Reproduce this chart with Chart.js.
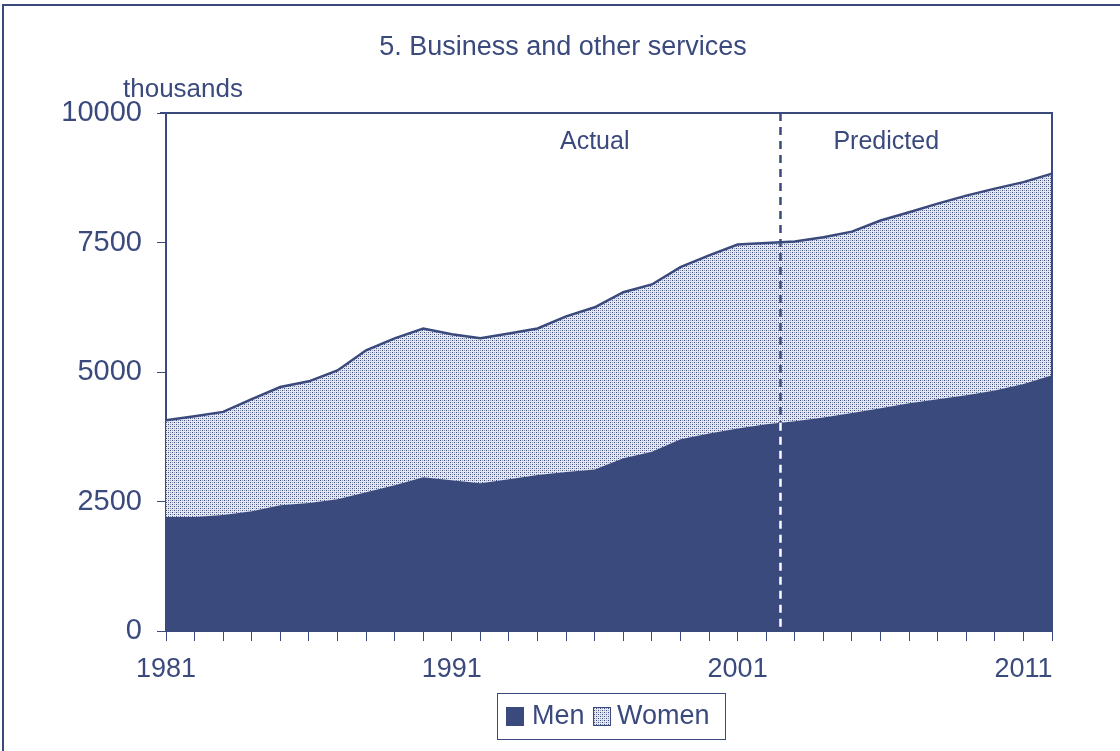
<!DOCTYPE html>
<html>
<head>
<meta charset="utf-8">
<title>5. Business and other services</title>
<script src="https://cdn.jsdelivr.net/npm/chart.js@4/dist/chart.umd.min.js"></script>
<style>
  html, body { margin: 0; padding: 0; background: #fff; }
  #wrap { position: relative; width: 1120px; height: 751px; }
</style>
</head>
<body>
<div id="wrap"><canvas id="chart" width="1120" height="751"></canvas></div>
<script>
// Data (thousands)
const years = [];
for (let y = 1981; y <= 2012; y++) years.push(String(y));
const shownYears = ['1981', '1991', '2001', '2011'];

const men = [2200, 2200, 2240, 2310, 2430, 2470, 2545, 2680, 2815, 2970,
             2910, 2850, 2930, 3010, 3070, 3120, 3335, 3460, 3700, 3815,
             3910, 3990, 4050, 4120, 4210, 4300, 4395, 4475, 4550, 4645,
             4770, 4935];
const women = [1870, 1945, 1990, 2165, 2280, 2350, 2485, 2740, 2835, 2870,
               2820, 2800, 2815, 2830, 3005, 3130, 3205, 3230, 3325, 3435,
               3550, 3500, 3470, 3480, 3500, 3625, 3690, 3775, 3855, 3895,
               3895, 3895];
const yTicks = [0, 2500, 5000, 7500, 10000];

const navy = '#3b4a7d';
const font = '"Liberation Sans", Arial, sans-serif';

// dotted fill used for women
function makeDots() {
    const c = document.createElement('canvas');
    c.width = 4; c.height = 4;
    const g = c.getContext('2d');
    g.fillStyle = '#e6e9f1';
    g.fillRect(0, 0, 4, 4);
    g.fillStyle = navy;
    g.fillRect(0, 0, 1, 1);
    g.fillRect(2, 2, 1, 1);
    g.fillStyle = 'rgba(59,74,125,0.5)';
    g.fillRect(2, 0, 1, 1);
    g.fillRect(0, 2, 1, 1);
    return document.getElementById('chart').getContext('2d').createPattern(c, 'repeat');
}
const dots = makeDots();

// frame, title, labels, dashed split line, legend
const decorations = {
    id: 'decorations',
    beforeDraw(chart) {
        const ctx = chart.ctx;
        ctx.save();
        ctx.fillStyle = '#fff';
        ctx.fillRect(0, 0, chart.width, chart.height);
        ctx.fillStyle = navy;
        ctx.fillRect(2, 4, chart.width - 2, 2);
        ctx.fillRect(2, 4, 2, chart.height - 4);
        ctx.restore();
    },
    afterDatasetsDraw(chart) {
        const ctx = chart.ctx;
        const a = chart.chartArea;
        const xs = chart.scales.x;
        ctx.save();

        // plot frame top and right
        ctx.strokeStyle = navy;
        ctx.lineWidth = 2;
        ctx.beginPath();
        ctx.moveTo(a.left - 6, a.top);
        ctx.lineTo(a.right, a.top);
        ctx.lineTo(a.right, a.bottom);
        ctx.stroke();

        // split between actual and predicted
        const x0 = xs.getPixelForValue(21), x1 = xs.getPixelForValue(22);
        const sx = (x0 + x1) / 2;
        const pts = chart.getDatasetMeta(0).data;
        const menY = (pts[21].y + pts[22].y) / 2;
        ctx.lineWidth = 2.5;
        ctx.setLineDash([8, 6]);
        ctx.strokeStyle = navy;
        ctx.beginPath();
        ctx.moveTo(sx, a.top);
        ctx.lineTo(sx, menY);
        ctx.stroke();
        ctx.strokeStyle = '#fff';
        ctx.beginPath();
        ctx.moveTo(sx, menY);
        ctx.lineTo(sx, a.bottom + 8);
        ctx.stroke();
        ctx.setLineDash([]);

        ctx.fillStyle = navy;
        ctx.textBaseline = 'middle';
        ctx.textAlign = 'center';
        ctx.font = '25px ' + font;
        ctx.fillText('Actual', xs.getPixelForValue(15), a.top + 29);
        const px = xs.getPixelForValue(25) + 0.2 * (xs.getPixelForValue(26) - xs.getPixelForValue(25));
        ctx.fillText('Predicted', px, a.top + 29);

        // title and unit
        ctx.font = '27px ' + font;
        ctx.fillText('5. Business and other services', 563, 48);
        ctx.textAlign = 'left';
        ctx.font = '26px ' + font;
        ctx.fillText('thousands', 123, 90);

        // legend
        ctx.lineWidth = 1;
        ctx.strokeStyle = navy;
        ctx.strokeRect(497.5, 693.5, 228, 46);
        ctx.fillStyle = navy;
        ctx.fillRect(506, 707, 18, 19);
        ctx.fillStyle = dots;
        ctx.fillRect(593, 707, 18, 19);
        ctx.strokeRect(593.5, 707.5, 17, 18);
        ctx.fillStyle = navy;
        ctx.font = '27px ' + font;
        ctx.fillText('Men', 532, 717);
        ctx.fillText('Women', 617, 717);
        ctx.restore();
    }
};

new Chart(document.getElementById('chart'), {
    type: 'line',
    data: {
        labels: years,
        datasets: [
            {
                label: 'Men',
                data: men,
                backgroundColor: navy,
                borderWidth: 0,
                pointRadius: 0,
                fill: 'origin',
                tension: 0
            },
            {
                label: 'Women',
                data: women,
                backgroundColor: dots,
                borderColor: navy,
                borderWidth: 2.5,
                pointRadius: 0,
                fill: '-1',
                tension: 0
            }
        ]
    },
    options: {
        responsive: false,
        animation: false,
        layout: { padding: { top: 113, right: 68, left: 0, bottom: 0 } },
        plugins: {
            legend: { display: false },
            title: { display: false },
            tooltip: { enabled: false }
        },
        scales: {
            x: {
                offset: false,
                grid: { drawOnChartArea: false, drawTicks: true, tickLength: 10, color: navy, lineWidth: 1 },
                border: { display: true, color: navy, width: 2 },
                ticks: {
                    autoSkip: false,
                    maxRotation: 0,
                    padding: 12,
                    color: navy,
                    font: { family: font, size: 27 },
                    callback: function (v) {
                        const lab = this.getLabelForValue(v);
                        return shownYears.includes(lab) ? lab : '';
                    }
                },
                afterFit(scale) { scale.height = 120; }
            },
            y: {
                stacked: true,
                min: 0,
                max: 10000,
                afterBuildTicks(scale) { scale.ticks = yTicks.map(v => ({ value: v })); },
                grid: { drawOnChartArea: false, drawTicks: true, tickLength: 9, color: navy, lineWidth: 1 },
                border: { display: true, color: navy, width: 2 },
                ticks: {
                    padding: 15,
                    color: navy,
                    font: { family: font, size: 29 },
                    callback: v => String(v)
                },
                afterFit(scale) { scale.width = 166; }
            }
        }
    },
    plugins: [decorations]
});
</script>
</body>
</html>
